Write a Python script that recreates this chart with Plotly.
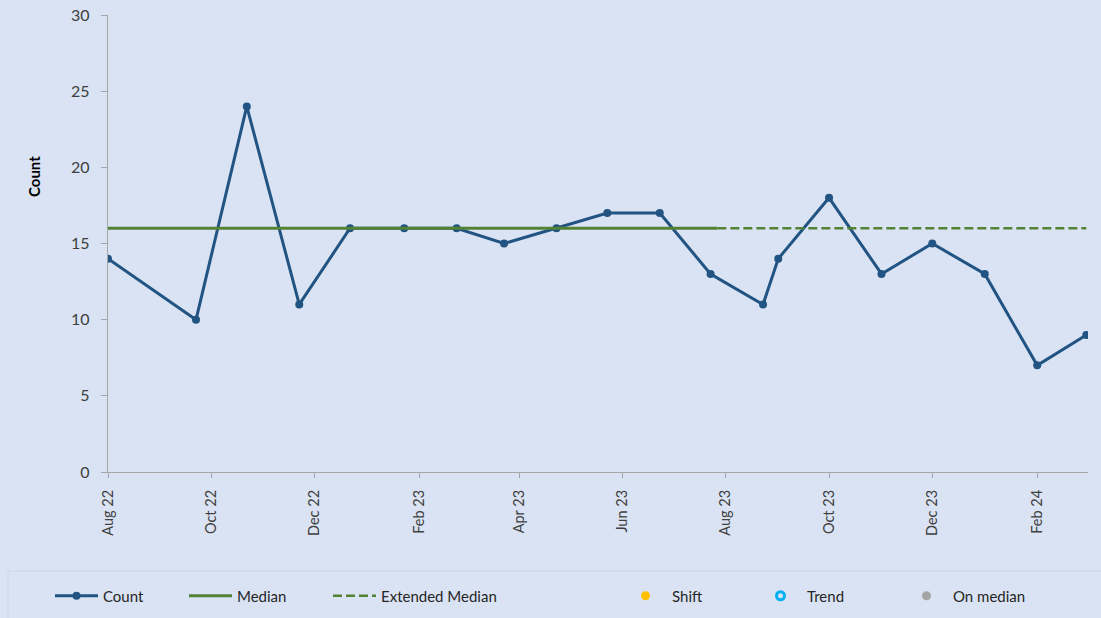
import plotly.graph_objects as go

# ---- data ----
dates = ["2022-08-01", "2022-09-22", "2022-10-22", "2022-11-22", "2022-12-22",
         "2023-01-23", "2023-02-23", "2023-03-23", "2023-04-23", "2023-05-23",
         "2023-06-23", "2023-07-23", "2023-08-23", "2023-09-01", "2023-10-01",
         "2023-11-01", "2023-12-01", "2024-01-01", "2024-02-01", "2024-03-01"]
counts = [14, 10, 24, 11, 16, 16, 16, 15, 16, 17, 17, 13, 11, 14, 18, 13, 15, 13, 7, 9]

median_dates = ["2022-08-01", "2023-07-27"]
median_vals = [16, 16]
ext_median_dates = ["2023-07-27", "2024-03-01"]
ext_median_vals = [16, 16]

x_range = ["2022-08-01", "2024-03-02"]
y_range = [0, 30]

# ---- style ----
BG = "#dae3f3"
BLUE = "#215483"
GREEN = "#548235"
AXIS = "#a6a6a6"
TXT = "#404040"
FONT = "Lato, Carlito, Calibri, sans-serif"

fig = go.Figure()

fig.add_trace(go.Scatter(x=dates, y=counts, mode="lines+markers", name="Count",
                         line=dict(color=BLUE, width=3),
                         marker=dict(color=BLUE, size=8), legend="legend"))
fig.add_trace(go.Scatter(x=median_dates, y=median_vals, mode="lines", name="Median",
                         line=dict(color=GREEN, width=3), legend="legend2"))
fig.add_trace(go.Scatter(x=ext_median_dates, y=ext_median_vals, mode="lines",
                         name="Extended Median",
                         line=dict(color=GREEN, width=2.5, dash="9px,4px"), legend="legend3"))
fig.add_trace(go.Scatter(x=[None], y=[None], mode="markers", name="Shift",
                         marker=dict(color="#ffc000", size=9), legend="legend4"))
fig.add_trace(go.Scatter(x=[None], y=[None], mode="markers", name="Trend",
                         marker=dict(color="rgba(0,0,0,0)", size=8,
                                     line=dict(color="#00b0f0", width=3)), legend="legend5"))
fig.add_trace(go.Scatter(x=[None], y=[None], mode="markers", name="On median",
                         marker=dict(color="#a5a5a5", size=9), legend="legend6"))

W, H = 1101, 618
def leg(xpx):
    return dict(x=xpx / W, y=1 - 596 / H, xref="container", yref="container",
                xanchor="left", yanchor="middle", orientation="h",
                bgcolor="rgba(0,0,0,0)", borderwidth=0, itemwidth=43,
                font=dict(family=FONT, size=15, color="#262626"))

fig.update_layout(
    width=W, height=H,
    paper_bgcolor=BG, plot_bgcolor=BG,
    margin=dict(l=108, r=13, t=15, b=146, autoexpand=False),
    font=dict(family=FONT, size=15, color=TXT),
    showlegend=True,
    legend=leg(50), legend2=leg(184), legend3=leg(328),
    legend4=leg(619), legend5=leg(754), legend6=leg(900),
    xaxis=dict(type="date", range=x_range, tick0="2022-08-01", dtick="M2",
               tickformat="%b %y", tickangle=-90, showgrid=False, zeroline=False,
               automargin=False, ticklabelstandoff=6,
               showline=True, linecolor=AXIS, linewidth=1.3, ticks="outside",
               ticklen=5, tickcolor=AXIS, tickfont=dict(family=FONT, size=14.5, color=TXT)),
    yaxis=dict(range=y_range, dtick=5, showgrid=False, zeroline=False,
               automargin=False, ticklabelstandoff=8,
               showline=True, linecolor=AXIS, linewidth=1.3, ticks="outside",
               ticklen=6, tickcolor=AXIS, tickfont=dict(family=FONT, size=16, color=TXT)),
    shapes=[dict(type="rect", xref="paper", yref="paper",
                 x0=(8 - 108) / 980, x1=1.2, y0=(472 - 571) / 457, y1=-0.5,
                 line=dict(color="#cdd5e3", width=1), fillcolor="rgba(0,0,0,0)")],
    annotations=[dict(text="<b>Count</b>", xref="paper", yref="paper",
                      x=(34 - 108) / 980, y=(472 - 177) / 457, showarrow=False,
                      textangle=-90, xanchor="center", yanchor="middle",
                      font=dict(family=FONT, size=15, color="#000000"))],
)

fig.write_html("out.html", config={"displayModeBar": False},
               post_script="document.body.style.margin='0';document.body.style.overflow='hidden';")
